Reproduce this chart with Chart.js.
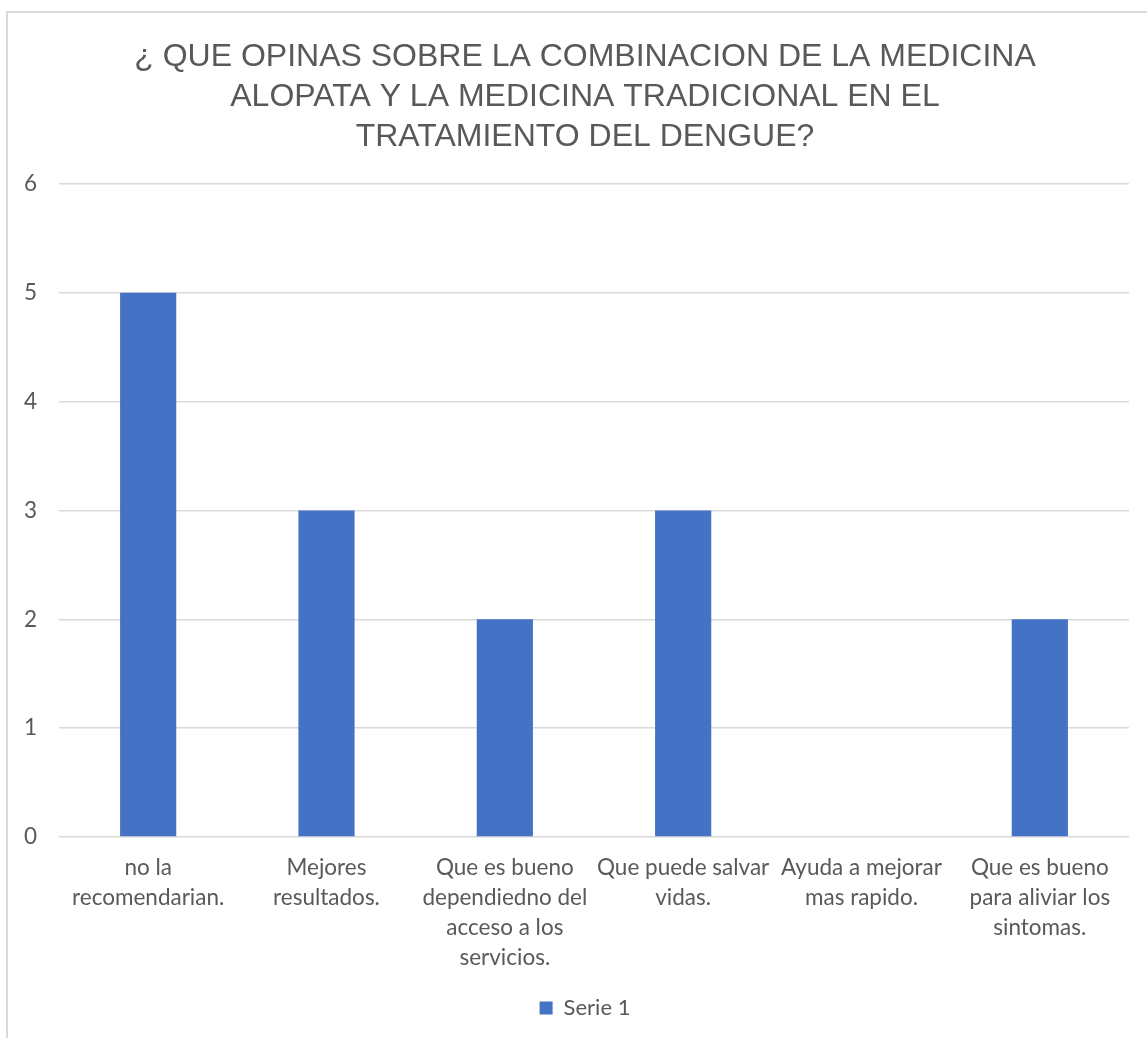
<!DOCTYPE html>
<html>
<head>
<meta charset="utf-8">
<script src="https://cdn.jsdelivr.net/npm/chart.js@4/dist/chart.umd.min.js"></script>
<style>
  html, body { margin: 0; padding: 0; background: #ffffff; overflow: hidden; }
  #frame { position: absolute; left: 6px; top: 11px; width: 1300px; height: 1200px; border: 2px solid #d9d9d9; box-sizing: border-box; }
  #wrap { position: absolute; left: 0; top: 0; width: 1147px; height: 1038px; }
</style>
</head>
<body>
<div id="frame"></div>
<div id="wrap"><canvas id="c" width="1147" height="1038"></canvas></div>
<script>
const titleLines = [
  "¿ QUE OPINAS SOBRE LA COMBINACION DE LA MEDICINA",
  "ALOPATA Y LA MEDICINA TRADICIONAL EN EL",
  "TRATAMIENTO DEL DENGUE?"
];
const categories = [
  ["no la", "recomendarian."],
  ["Mejores", "resultados."],
  ["Que es bueno", "dependiedno del", "acceso a los", "servicios."],
  ["Que puede salvar", "vidas."],
  ["Ayuda a mejorar", "mas rapido."],
  ["Que es bueno", "para aliviar los", "sintomas."]
];
const serie1 = [5, 3, 2, 3, 0, 2];
const seriesName = "Serie 1";
const yMin = 0, yMax = 6, yStep = 1;

const textColor = "#595959";
const labelFont = { family: "Lato", size: 22.5, lineHeight: 1.33 };

new Chart(document.getElementById("c"), {
  type: "bar",
  data: {
    labels: categories,
    datasets: [{
      label: seriesName,
      data: serie1,
      backgroundColor: "#4472C4",
      borderWidth: 0,
      barPercentage: 1,
      categoryPercentage: 0.315
    }]
  },
  options: {
    responsive: false,
    animation: false,
    layout: { padding: { left: 23, right: 0, top: 0, bottom: 9 } },
    plugins: {
      title: {
        display: true,
        text: titleLines,
        color: textColor,
        font: { family: "Liberation Sans", size: 32, weight: "normal", lineHeight: 1.25 },
        padding: { top: 37, bottom: 27 }
      },
      legend: {
        display: true,
        position: "bottom",
        labels: {
          color: textColor,
          font: { family: "Lato", size: 22 },
          boxWidth: 13,
          boxHeight: 13,
          padding: 10
        }
      },
      tooltip: { enabled: false }
    },
    scales: {
      x: {
        grid: { display: false },
        border: { display: false },
        ticks: {
          color: textColor,
          font: labelFont,
          maxRotation: 0,
          autoSkip: false,
          padding: 8
        },
        afterFit: (s) => { s.height = 150; }
      },
      y: {
        min: yMin,
        max: yMax,
        grid: { color: "#d9d9d9", lineWidth: 1.5, drawTicks: false },
        border: { display: false },
        ticks: {
          stepSize: yStep,
          color: textColor,
          font: { family: "Lato", size: 22.5 },
          padding: 22
        },
        afterFit: (s) => { s.width = 36; }
      },
      yRightGap: {
        position: "right",
        display: true,
        grid: { display: false },
        border: { display: false },
        ticks: { display: false },
        afterFit: (s) => { s.width = 18; }
      }
    }
  }
});
</script>
</body>
</html>
